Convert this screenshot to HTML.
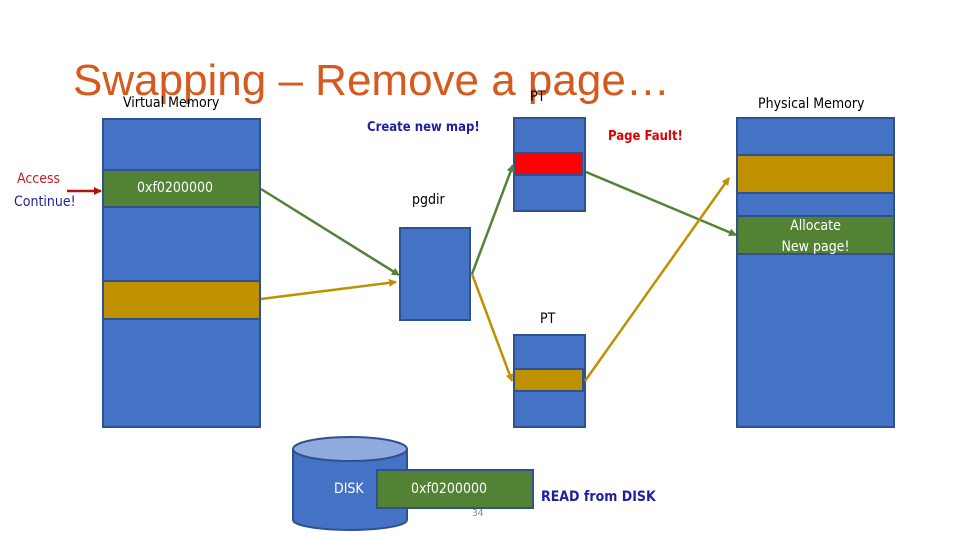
<!DOCTYPE html>
<html><head><style>
body{margin:0;width:960px;height:540px;background:#fff;position:relative;overflow:hidden;font-family:"Liberation Sans",sans-serif}
.a{position:absolute}
.b{position:absolute;background:#4472c4;border:2px solid #2f528f;box-sizing:border-box}
.s{position:absolute;box-sizing:border-box;border:2px solid #2f528f}
.t{position:absolute;font-family:"DejaVu Sans Condensed","Liberation Sans",sans-serif;white-space:nowrap}
</style></head><body>
<div class="a" style="left:73px;top:56px;font-size:44px;color:#d55a1e;line-height:50px">Swapping – Remove a page…</div>
<div class="t" style="left:123px;top:95px;font-size:14px">Virtual Memory</div>
<div class="t" style="left:530px;top:89px;font-size:14px">PT</div>
<div class="t" style="left:758px;top:96px;font-size:14px">Physical Memory</div>
<div class="t" style="left:367px;top:120px;font-size:13px;color:#1f1fa0;font-weight:bold">Create new map!</div>
<div class="t" style="left:608px;top:129px;font-size:13px;color:#e00000;font-weight:bold">Page Fault!</div>
<div class="t" style="left:17px;top:171px;font-size:14px;color:#c0202a">Access</div>
<div class="t" style="left:14px;top:194px;font-size:14px;color:#1f1fa0">Continue!</div>
<div class="t" style="left:412px;top:192px;font-size:14px">pgdir</div>
<div class="t" style="left:540px;top:311px;font-size:14px">PT</div>

<div class="b" style="left:102px;top:118px;width:159px;height:310px"></div>
<div class="s" style="left:102px;top:169px;width:159px;height:39px;background:#548235"></div>
<div class="t" style="left:137px;top:180px;font-size:14px;color:#fff">0xf0200000</div>
<div class="s" style="left:102px;top:280px;width:159px;height:40px;background:#bf9000"></div>

<div class="b" style="left:399px;top:227px;width:72px;height:94px"></div>

<div class="b" style="left:513px;top:117px;width:73px;height:95px"></div>
<div class="s" style="left:513px;top:152px;width:70px;height:24px;background:#ff0000"></div>

<div class="b" style="left:513px;top:334px;width:73px;height:94px"></div>
<div class="s" style="left:513px;top:368px;width:71px;height:24px;background:#bf9000"></div>

<div class="b" style="left:736px;top:117px;width:159px;height:311px"></div>
<div class="s" style="left:736px;top:154px;width:159px;height:40px;background:#bf9000"></div>
<div class="s" style="left:736px;top:215px;width:159px;height:40px;background:#548235"></div>
<div class="t" style="left:736px;top:216px;width:159px;text-align:center;font-size:14px;color:#fff;line-height:21px">Allocate<br>New page!</div>

<svg class="a" style="left:0;top:0" width="960" height="540">
<defs>
<marker id="g" markerWidth="8" markerHeight="8" refX="7" refY="4" orient="auto" markerUnits="userSpaceOnUse"><path d="M0,0L8,4L0,8z" fill="#548235"/></marker>
<marker id="y" markerWidth="8" markerHeight="8" refX="7" refY="4" orient="auto" markerUnits="userSpaceOnUse"><path d="M0,0L8,4L0,8z" fill="#bf9000"/></marker>
<marker id="r" markerWidth="8" markerHeight="8" refX="7" refY="4" orient="auto" markerUnits="userSpaceOnUse"><path d="M0,0L8,4L0,8z" fill="#b01010"/></marker>
</defs>
<g stroke-width="2.5" fill="none">
<line x1="67" y1="191" x2="101" y2="191" stroke="#b01010" marker-end="url(#r)"/>
<line x1="261" y1="189" x2="399" y2="275" stroke="#548235" marker-end="url(#g)"/>
<line x1="261" y1="299" x2="396" y2="282" stroke="#bf9000" marker-end="url(#y)"/>
<line x1="472" y1="274" x2="513" y2="165" stroke="#548235" marker-end="url(#g)"/>
<line x1="472" y1="274" x2="512" y2="381" stroke="#bf9000" marker-end="url(#y)"/>
<line x1="586" y1="172" x2="736" y2="235" stroke="#548235" marker-end="url(#g)"/>
<line x1="585" y1="381" x2="729" y2="178" stroke="#bf9000" marker-end="url(#y)"/>
</g>
<path d="M293,449 L293,520 A57,10 0 0 0 407,520 L407,449" fill="#4472c4" stroke="#2f528f" stroke-width="2"/>
<ellipse cx="350" cy="449" rx="57" ry="12" fill="#8faadc" stroke="#2f528f" stroke-width="2"/>
</svg>
<div class="t" style="left:334px;top:481px;font-size:14px;color:#fff">DISK</div>
<div class="s" style="left:376px;top:469px;width:158px;height:40px;background:#548235"></div>
<div class="t" style="left:411px;top:481px;font-size:14px;color:#fff">0xf0200000</div>
<div class="t" style="left:472px;top:508px;font-size:10px;color:#888">34</div>
<div class="t" style="left:541px;top:489px;font-size:14px;color:#1f1fa0;font-weight:bold">READ from DISK</div>
</body></html>
